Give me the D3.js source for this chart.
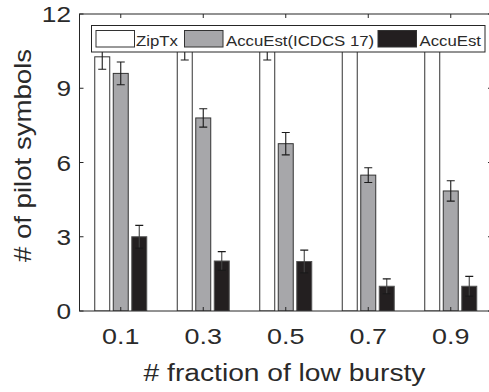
<!DOCTYPE html>
<html>
<head>
<meta charset="utf-8">
<script src="https://cdn.jsdelivr.net/npm/d3@7"></script>
<style>
  body { margin: 0; background: #fff; }
  text { font-family: "Liberation Sans", Arial, sans-serif; fill: #2a2a2a; }
</style>
</head>
<body>
<div id="chart"></div>
<script>
// data
const categories = ["0.1", "0.3", "0.5", "0.7", "0.9"];
const seriesNames = ["ZipTx", "AccuEst(ICDCS 17)", "AccuEst"];
const zipTx = [10.27, 10.8, 10.8, 11.0, 11.0];
const zipTxErr = [0.5, 0.66, 0.66, 0.4, 0.4];
const accuOld = [9.6, 7.8, 6.76, 5.49, 4.85];
const accuOldErr = [0.46, 0.37, 0.45, 0.3, 0.41];
const accuEst = [3.0, 2.02, 2.0, 1.0, 1.0];
const accuEstErr = [0.46, 0.38, 0.46, 0.3, 0.4];
const yTicks = [0, 3, 6, 9, 12];

const fills = ["#ffffff", "#a7a7aa", "#231f20"];
const strokes = ["#333333", "#333333", "#555555"];

const width = 489, height = 392;
const plotL = 79.5, plotR = 492, plotT = 14, plotB = 311;

const svg = d3.select("#chart").append("svg")
    .attr("width", width)
    .attr("height", height);

svg.append("clipPath").attr("id", "plotClip")
  .append("rect")
    .attr("x", plotL).attr("y", plotT)
    .attr("width", plotR - plotL).attr("height", plotB - plotT);

const x0 = d3.scaleBand()
    .domain(categories)
    .range([plotL, plotR])
    .padding(0);

const x1 = d3.scaleBand()
    .domain(seriesNames)
    .range([-26, 26])
    .paddingInner(0.19)
    .paddingOuter(0);

const y = d3.scaleLinear()
    .domain([0, 12])
    .range([plotB, plotT]);

const series = [
  { name: seriesNames[0], vals: zipTx, errs: zipTxErr },
  { name: seriesNames[1], vals: accuOld, errs: accuOldErr },
  { name: seriesNames[2], vals: accuEst, errs: accuEstErr }
];

// helper for the wide-looking text of the figure
function label(g, x, yy, str, size, sx, anchor, rot) {
  return g.append("text")
      .attr("transform", `translate(${x},${yy}) rotate(${rot || 0}) scale(${sx},1)`)
      .attr("text-anchor", anchor)
      .attr("font-size", size)
      .text(str);
}

const plot = svg.append("g").attr("clip-path", "url(#plotClip)");

// bars
series.forEach((s, si) => {
  plot.append("g").selectAll("rect")
      .data(s.vals)
      .enter().append("rect")
      .attr("x", (d, i) => x0(categories[i]) + x0.bandwidth() / 2 + x1(s.name))
      .attr("y", d => y(d))
      .attr("width", x1.bandwidth())
      .attr("height", d => y(0) - y(d))
      .attr("fill", fills[si])
      .attr("stroke", strokes[si])
      .attr("stroke-width", 1);
});

// error bars
series.forEach((s, si) => {
  const eg = plot.append("g")
      .attr("stroke", si === 2 ? "#444" : "#1a1a1a")
      .attr("stroke-width", 1.1);
  s.vals.forEach((v, i) => {
    const cx = x0(categories[i]) + x0.bandwidth() / 2 + x1(s.name) + x1.bandwidth() / 2;
    const e = s.errs[i];
    eg.append("line")
        .attr("x1", cx).attr("x2", cx)
        .attr("y1", y(v + e)).attr("y2", y(v - e));
    [v + e, v - e].forEach(t => {
      eg.append("line")
          .attr("x1", cx - 4).attr("x2", cx + 4)
          .attr("y1", y(t)).attr("y2", y(t))
          .attr("stroke", "#1a1a1a");
    });
  });
});

// axes box with inner ticks
const ax = svg.append("g").attr("stroke", "#262626").attr("stroke-width", 1).attr("fill", "none");
ax.append("rect")
    .attr("x", plotL).attr("y", plotT)
    .attr("width", plotR - plotL).attr("height", plotB - plotT);

categories.forEach(c => {
  const cx = x0(c) + x0.bandwidth() / 2;
  ax.append("line").attr("x1", cx).attr("x2", cx).attr("y1", plotB).attr("y2", plotB - 4);
  ax.append("line").attr("x1", cx).attr("x2", cx).attr("y1", plotT).attr("y2", plotT + 4);
});
yTicks.forEach(t => {
  ax.append("line").attr("x1", plotL).attr("x2", plotL + 4).attr("y1", y(t)).attr("y2", y(t));
  ax.append("line").attr("x1", plotR).attr("x2", plotR - 4).attr("y1", y(t)).attr("y2", y(t));
});

// tick labels
const tl = svg.append("g");
yTicks.forEach(t => {
  label(tl, 71, y(t) + 8, t, 21.5, 1.22, "end");
});
categories.forEach(c => {
  label(tl, x0(c) + x0.bandwidth() / 2, 344, c, 21.5, 1.25, "middle");
});

// axis titles
label(svg, 284.5, 381, "# fraction of low bursty", 24.5, 1.15, "middle");
label(svg, 31, 155.5, "# of pilot symbols", 23, 1.2, "middle", -90);

// legend
const lg = svg.append("g");
lg.append("rect")
    .attr("x", 91.5).attr("y", 25.5)
    .attr("width", 393.5).attr("height", 26.5)
    .attr("fill", "#fff")
    .attr("stroke", "#262626");
const legendPatchX = [96, 184.5, 378];
const legendTextX = [136, 226, 419.5];
seriesNames.forEach((n, i) => {
  lg.append("rect")
      .attr("x", legendPatchX[i]).attr("y", 30.5)
      .attr("width", 38.5).attr("height", 16.5)
      .attr("fill", fills[i])
      .attr("stroke", "#333");
  label(lg, legendTextX[i], 46, n, 15.4, 1.09, "start");
});
</script>
</body>
</html>
